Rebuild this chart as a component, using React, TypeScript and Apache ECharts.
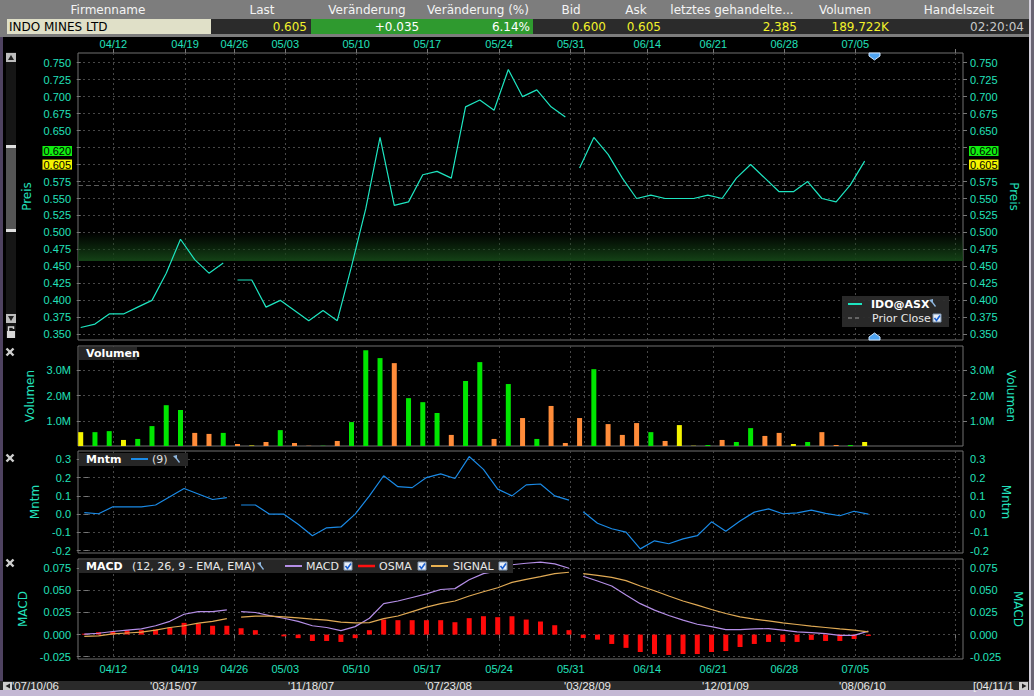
import React, { useEffect, useRef } from 'react';
import * as echarts from 'echarts';

// ---------------- data ----------------
const dateLabels = ['04/12', '04/19', '04/26', '05/03', '05/10', '05/17', '05/24', '05/31', '06/14', '06/21', '06/28', '07/05'];
const dateTicks = [2.29, 7.32, 10.78, 14.35, 19.33, 24.32, 29.35, 34.38, 39.75, 44.38, 49.36, 54.34];
const extraGridTicks = [35.31, 61.38];
const segmentStarts = [11, 35];

const price = [
  0.360, 0.365, 0.380, 0.380, 0.390, 0.400, 0.440, 0.490, 0.460, 0.440, 0.455,
  0.430, 0.430, 0.390, 0.400, 0.385, 0.370, 0.385, 0.370, 0.450, 0.535, 0.640, 0.540, 0.545, 0.585, 0.590, 0.580, 0.685, 0.695, 0.680, 0.740, 0.700, 0.710, 0.685, 0.670,
  0.595, 0.640, 0.615, 0.580, 0.550, 0.555, 0.550, 0.550, 0.550, 0.555, 0.550, 0.580, 0.600, 0.580, 0.560, 0.560, 0.575, 0.550, 0.545, 0.570, 0.605,
];
const priorClose = 0.570;
const dayHigh = 0.620;
const lastPrice = 0.605;
const bandTop = 0.500;
const bandBottom = 0.458;

// volume in millions
const volume = [
  0.55, 0.55, 0.59, 0.24, 0.28, 0.79, 1.62, 1.43, 0.52, 0.48, 0.52,
  0.08, 0.02, 0.16, 0.63, 0.12, 0.01, 0.01, 0.20, 0.95, 3.80, 3.49, 3.29, 1.90, 1.74, 1.31, 0.44, 2.58, 3.33, 0.28, 2.46, 1.11, 0.28, 1.59, 0.12,
  1.11, 3.05, 0.87, 0.44, 0.91, 0.55, 0.20, 0.83, 0.01, 0.04, 0.24, 0.16, 0.71, 0.40, 0.52, 0.08, 0.16, 0.55, 0.04, 0.04, 0.16,
];
// u = up day, d = down day, n = unchanged
const volDir = [
  'n', 'u', 'u', 'n', 'u', 'u', 'u', 'u', 'd', 'd', 'u',
  'd', 'n', 'd', 'u', 'd', 'd', 'u', 'd', 'u', 'u', 'u', 'd', 'u', 'u', 'u', 'd', 'u', 'u', 'd', 'u', 'd', 'u', 'd', 'd',
  'd', 'u', 'd', 'd', 'd', 'u', 'd', 'n', 'n', 'u', 'd', 'u', 'u', 'd', 'd', 'n', 'u', 'd', 'd', 'u', 'n',
];

const momentum = [
  0.008, 0.002, 0.040, 0.040, 0.040, 0.050, 0.095, 0.140, 0.110, 0.080, 0.090,
  0.050, 0.050, 0.000, 0.000, -0.055, -0.118, -0.075, -0.070, 0.000, 0.100, 0.210, 0.150, 0.145, 0.200, 0.220, 0.195, 0.315, 0.245, 0.137, 0.100, 0.160, 0.165, 0.100, 0.077,
  0.013, -0.050, -0.080, -0.098, -0.190, -0.146, -0.162, -0.135, -0.118, -0.042, -0.093, -0.038, 0.011, 0.029, 0.002, 0.007, 0.022, 0.004, -0.009, 0.016, 0.000,
];

const macd = [
  0.0005, 0.0015, 0.0035, 0.005, 0.0065, 0.010, 0.015, 0.023, 0.026, 0.026, 0.028,
  0.026, 0.025, 0.0215, 0.0185, 0.015, 0.010, 0.008, 0.0045, 0.009, 0.0185, 0.035, 0.038, 0.042, 0.046, 0.051, 0.052, 0.062, 0.069, 0.072, 0.079, 0.0807, 0.082, 0.080, 0.075,
  0.066, 0.0606, 0.055, 0.0447, 0.035, 0.0277, 0.0216, 0.0163, 0.0117, 0.009, 0.0057, 0.0057, 0.0064, 0.0068, 0.005, 0.003, 0.0023, 0.0011, -0.0008, -0.0008, 0.004,
];
const signal = [
  -0.002, -0.0015, 0.0008, 0.0018, 0.0027, 0.005, 0.008, 0.010, 0.013, 0.015, 0.018,
  0.0197, 0.021, 0.021, 0.020, 0.019, 0.0174, 0.0163, 0.014, 0.0133, 0.0136, 0.018, 0.021, 0.026, 0.031, 0.035, 0.038, 0.0436, 0.0485, 0.053, 0.059, 0.0625, 0.0655, 0.069, 0.0705,
  0.069, 0.067, 0.0648, 0.061, 0.055, 0.0496, 0.0436, 0.038, 0.0333, 0.0284, 0.0239, 0.020, 0.0174, 0.0155, 0.0133, 0.0114, 0.0095, 0.008, 0.0064, 0.005, 0.003,
];
const osma = [
  0.001, 0.0027, 0.0034, 0.005, 0.005, 0.0057, 0.008, 0.0133, 0.0125, 0.010, 0.010,
  0.0072, 0.005, 0, -0.002, -0.004, -0.0072, -0.0072, -0.0083, -0.004, 0.005, 0.017, 0.0163, 0.0163, 0.0163, 0.0163, 0.014, 0.0186, 0.0208, 0.0197, 0.0208, 0.017, 0.0148, 0.0106, 0.005,
  -0.0038, -0.0057, -0.0106, -0.015, -0.0197, -0.022, -0.023, -0.022, -0.022, -0.0197, -0.0186, -0.014, -0.0106, -0.0083, -0.0083, -0.0083, -0.006, -0.0072, -0.0072, -0.005, -0.0015,
];

const priceTicks = [0.35, 0.375, 0.4, 0.425, 0.45, 0.475, 0.5, 0.525, 0.55, 0.575, 0.6, 0.625, 0.65, 0.675, 0.7, 0.725, 0.75];
const priceLabelTicks = [0.35, 0.375, 0.4, 0.425, 0.45, 0.475, 0.5, 0.525, 0.55, 0.575, 0.65, 0.675, 0.7, 0.725, 0.75];
const volTicks = [1, 2, 3];
const mntmTicks = [-0.2, -0.1, 0, 0.1, 0.2, 0.3];
const macdTicks = [-0.025, 0, 0.025, 0.05, 0.075];

const headerLabels = ['Firmenname', 'Last', 'Veränderung', 'Veränderung (%)', 'Bid', 'Ask', 'letztes gehandelte...', 'Volumen', 'Handelszeit'];
const companyName = 'INDO MINES LTD';
const quoteLast = '0.605';
const quoteChange = '+0.035';
const quoteChangePct = '6.14%';
const quoteBid = '0.600';
const quoteAsk = '0.605';
const quoteLastSize = '2,385';
const quoteVolume = '189.722K';
const quoteTime = '02:20:04';
const scrollDates = ["'07/10/06", "'03/15/07", "'11/18/07", "'07/23/08", "'03/28/09", "'12/01/09", "'08/06/10", '[04/11/1'];

// ---------------- styling / layout ----------------
const TEAL = '#22e0bb';
const GRIDLINE = { color: '#474747', type: [2, 3] as any, width: 1 };
const LABEL_FONT = 'Liberation Sans';
const UI_FONT = '"DejaVu Sans"';

const X_MIN = -0.19;
const X_MAX = 61.9;
const XS_MIN = -0.442;
const XS_MAX = 61.64;

function withBreaks(values: number[]) {
  const out: any[] = [];
  values.forEach((v, i) => {
    if (segmentStarts.includes(i)) out.push([i - 0.5, '-']);
    out.push([i, v]);
  });
  return out;
}

function dateFmt(v: number) {
  let best = 0;
  let bd = Infinity;
  dateTicks.forEach((t, i) => {
    const d = Math.abs(t - v);
    if (d < bd) { bd = d; best = i; }
  });
  return dateLabels[best];
}

function yPair(gridIndex: number, min: number, max: number, ticks: number[], labelTicks: number[], fmt: (v: number) => string, name: string, gapL: number, gapR: number) {
  const common: any = {
    type: 'value', gridIndex, min, max,
    axisLine: { show: false },
    axisTick: { show: true, length: 4, lineStyle: { color: '#777' }, customValues: ticks },
    axisLabel: { customValues: labelTicks, formatter: fmt, color: TEAL, fontFamily: LABEL_FONT, fontSize: 11, margin: 7 },
    name, nameLocation: 'middle',
    nameTextStyle: { color: TEAL, fontFamily: 'DejaVu Sans', fontSize: 12 },
  };
  return [
    { ...common, position: 'left', nameRotate: 90, nameGap: gapL, splitLine: { show: true, lineStyle: GRIDLINE } },
    { ...common, position: 'right', nameRotate: -90, nameGap: gapR, splitLine: { show: false } },
  ];
}

function xAxisDef(gridIndex: number, opts: any = {}) {
  return {
    type: 'value', gridIndex, min: X_MIN, max: X_MAX,
    position: opts.position || 'bottom',
    axisLine: { show: false },
    splitLine: { show: true, lineStyle: GRIDLINE },
    axisTick: { show: !!opts.labels, length: 4, lineStyle: { color: '#777' }, customValues: [...dateTicks, ...extraGridTicks] },
    axisLabel: { show: !!opts.labels, customValues: dateTicks, formatter: dateFmt, color: TEAL, fontFamily: LABEL_FONT, fontSize: 11, margin: 4 },
  };
}

function hiddenX(gridIndex: number) {
  return { type: 'value', gridIndex, min: XS_MIN, max: XS_MAX, show: false, splitLine: { show: false } };
}

// graphic helpers
const T = (text: string, x: number, y: number, o: any = {}) => ({
  type: 'text', silent: true, z: 100,
  style: { text, x, y, fill: o.fill || '#ffffff', font: o.font || `12px ${UI_FONT}`, textAlign: o.align || 'left', textVerticalAlign: 'middle' },
});
const R = (x: number, y: number, w: number, h: number, fill: string, o: any = {}) => ({
  type: 'rect', silent: true, z: o.z ?? 90,
  shape: { x, y, width: w, height: h },
  style: { fill, stroke: o.stroke || null, lineWidth: o.lw || 0 },
});
const L = (x1: number, y1: number, x2: number, y2: number, stroke: string, lw = 1, dash?: number[]) => ({
  type: 'line', silent: true, z: 100,
  shape: { x1, y1, x2, y2 },
  style: { stroke, lineWidth: lw, lineDash: dash },
});
const P = (points: number[][], fill: string, stroke?: string) => ({
  type: 'polygon', silent: true, z: 100, shape: { points }, style: { fill, stroke: stroke || null, lineWidth: 1 },
});
const checkbox = (x: number, y: number) => [
  R(x, y, 8, 8, '#e8eef8', { stroke: '#7f95b0', lw: 1, z: 100 }),
  { type: 'polyline', silent: true, z: 101, shape: { points: [[x + 1.5, y + 4], [x + 3.5, y + 6.5], [x + 7, y + 1.5]] }, style: { stroke: '#1a5fd0', lineWidth: 1.6, fill: null } },
];
const wrench = (x: number, y: number) => [
  P([[x - 3, y - 4], [x, y - 1], [x + 3, y + 3], [x + 4, y + 2], [x + 1, y - 2], [x + 1, y - 5]], '#8fb8e0'),
];
const closeX = (x: number, y: number) => [
  L(x - 3.5, y - 3.5, x + 3.5, y + 3.5, '#cfcfcf', 2.4),
  L(x - 3.5, y + 3.5, x + 3.5, y - 3.5, '#cfcfcf', 2.4),
];

function buildGraphic() {
  const g: any[] = [];
  // header
  g.push(R(0, 0, 1034, 37, '#7d7d7d', { z: 80 }));
  const headerCenters = [108, 262, 367, 478, 571, 636, 732, 845, 959];
  headerLabels.forEach((h, i) => g.push(T(h, headerCenters[i], 9.5, { align: 'center', fill: '#f4f4f4', font: `12px ${UI_FONT}` })));
  g.push(R(7, 19, 204, 15, '#e0e0c8'));
  g.push(R(211, 19, 100, 15, '#2b2b2b'));
  g.push(R(311, 19, 222, 15, '#2f9a2f'));
  g.push(R(533, 19, 496, 15, '#2b2b2b'));
  g.push(T(companyName, 9, 26.5, { fill: '#000', font: `12px ${UI_FONT}` }));
  g.push(T(quoteLast, 307, 26.5, { align: 'right', fill: '#f2f22a' }));
  g.push(T(quoteChange, 397, 26.5, { align: 'center', fill: '#ffffff' }));
  g.push(T(quoteChangePct, 530, 26.5, { align: 'right', fill: '#ffffff' }));
  g.push(T(quoteBid, 606, 26.5, { align: 'right', fill: '#f2f22a' }));
  g.push(T(quoteAsk, 661, 26.5, { align: 'right', fill: '#f2f22a' }));
  g.push(T(quoteLastSize, 797, 26.5, { align: 'right', fill: '#f2f22a' }));
  g.push(T(quoteVolume, 889, 26.5, { align: 'right', fill: '#f2f22a' }));
  g.push(T(quoteTime, 1024, 26.5, { align: 'right', fill: '#c8c8c8' }));

  // window edges
  g.push(R(0, 37, 3, 653, '#4e4260'));
  g.push(R(1029, 0, 2, 696, '#d4d0dc'));
  g.push(R(1031, 0, 3, 696, '#6a6472'));

  // left scrollbar
  g.push(R(6, 52, 10, 286, '#161616'));
  g.push(R(6, 53, 10, 9, '#bdbdbd'));
  g.push(P([[8, 60], [14, 60], [11, 55]], '#222'));
  g.push(R(6, 145, 10, 87, '#555555'));
  g.push(R(6, 145, 10, 3, '#e0e0e0'));
  g.push(R(6, 229, 10, 3, '#e0e0e0'));
  g.push(R(6, 314, 10, 9, '#bdbdbd'));
  g.push(P([[8, 316], [14, 316], [11, 321]], '#222'));
  g.push(R(7, 331, 8, 7, '#d8d8d8'));
  g.push({ type: 'polyline', silent: true, z: 100, shape: { points: [[8.5, 331], [8.5, 327], [13.5, 327], [13.5, 329]] }, style: { stroke: '#d8d8d8', lineWidth: 1.5, fill: null } });

  // close icons
  g.push(...closeX(10, 352), ...closeX(10, 458), ...closeX(10, 563));

  // price pane markers
  g.push(P([[869, 53], [880, 53], [880, 56], [874.5, 60], [869, 56]], '#4ea3f0', '#cfe6ff'));
  g.push(P([[869, 340], [880, 340], [880, 337], [874.5, 333], [869, 337]], '#4ea3f0', '#cfe6ff'));

  // price legend
  g.push(R(842, 296, 107, 31, 'rgba(44,44,44,0.92)', { z: 95 }));
  g.push(L(848, 304, 862, 304, '#1de5c0', 2));
  g.push(T('IDO@ASX', 871, 304, { font: `bold 11px ${UI_FONT}` }));
  g.push(...wrench(932, 304));
  g.push(L(848, 318, 862, 318, '#777', 1.5, [4, 3]));
  g.push(T('Prior Close', 872, 318, { font: `11px ${UI_FONT}`, fill: '#e8e8e8' }));
  g.push(...checkbox(933, 314));

  // volume legend
  g.push(R(79, 347, 58, 13, '#262626', { z: 95 }));
  g.push(T('Volumen', 86, 353.5, { font: `bold 11px ${UI_FONT}` }));

  // momentum legend
  g.push(R(79, 453, 109, 13, '#262626', { z: 95 }));
  g.push(T('Mntm', 86, 459.5, { font: `bold 11px ${UI_FONT}` }));
  g.push(L(131, 459, 148, 459, '#1a8ae6', 2));
  g.push(T('(9)', 152, 459.5, { font: `11px ${UI_FONT}`, fill: '#e0e0e0' }));
  g.push(...wrench(176, 460));

  // macd legend
  g.push(R(79, 560, 434, 13, '#262626', { z: 95 }));
  g.push(T('MACD', 86, 566.5, { font: `bold 11px ${UI_FONT}` }));
  g.push(T('(12, 26, 9 - EMA, EMA)', 132, 566.5, { font: `11px ${UI_FONT}`, fill: '#e8e8e8' }));
  g.push(...wrench(260, 567));
  g.push(L(285, 566, 302, 566, '#b48ee6', 2));
  g.push(T('MACD', 306, 566.5, { font: `11px ${UI_FONT}`, fill: '#e8e8e8' }));
  g.push(...checkbox(344, 562));
  g.push(L(358, 566, 375, 566, '#ff1010', 2.5));
  g.push(T('OSMA', 379, 566.5, { font: `11px ${UI_FONT}`, fill: '#e8e8e8' }));
  g.push(...checkbox(418, 562));
  g.push(L(431, 566, 448, 566, '#e8b050', 2));
  g.push(T('SIGNAL', 453, 566.5, { font: `11px ${UI_FONT}`, fill: '#e8e8e8' }));
  g.push(...checkbox(499, 562));

  // bottom scrollbar
  g.push(R(0, 681, 1029, 9, '#2a2a2a'));
  g.push(R(0, 690, 1034, 6, '#c4b8d4'));
  g.push(R(3, 682, 9, 8, '#cfcfcf'));
  g.push(P([[10, 683.5], [10, 688.5], [5.5, 686]], '#222'));
  g.push(R(1019, 682, 9, 8, '#cfcfcf'));
  g.push(P([[1022, 683.5], [1022, 688.5], [1026.5, 686]], '#222'));
  const scrollX = [12, 150, 288, 425, 564, 702, 839, 973];
  scrollDates.forEach((d, i) => g.push(T(d, scrollX[i], 685.5, { font: `11.5px ${LABEL_FONT}`, fill: '#e8e8e8' })));
  return g;
}

function buildOption(): any {
  const priceY = yPair(0, 0.3416, 0.7643, priceTicks, priceLabelTicks, (v) => v.toFixed(3), 'Preis', 36, 36);
  const volY = yPair(1, 0, 3.97, volTicks, volTicks, (v) => v.toFixed(1) + 'M', 'Volumen', 33, 33);
  const mntmY = yPair(2, -0.2126, 0.3454, mntmTicks, mntmTicks, (v) => v.toFixed(1), 'Mntm', 28, 28);
  const macdY = yPair(3, -0.0276, 0.0855, macdTicks, macdTicks, (v) => v.toFixed(3), 'MACD', 39, 39);

  const tag = (v: number, pos: string, bg: string) => ({
    yAxis: v,
    lineStyle: { color: 'rgba(0,0,0,0)', width: 0 },
    label: {
      show: true, position: pos, formatter: v.toFixed(3), backgroundColor: bg, color: '#000',
      fontFamily: LABEL_FONT, fontSize: 11, padding: [0, 1], lineHeight: 10, distance: 6,
    },
  });

  return {
    animation: false,
    backgroundColor: '#000000',
    grid: [
      { left: 78, width: 885, top: 53, height: 287, show: true, borderColor: '#707070', borderWidth: 1 },
      { left: 78, width: 885, top: 346, height: 100, show: true, borderColor: '#707070', borderWidth: 1 },
      { left: 78, width: 885, top: 451, height: 102, show: true, borderColor: '#707070', borderWidth: 1 },
      { left: 78, width: 885, top: 559, height: 100, show: true, borderColor: '#707070', borderWidth: 1 },
    ],
    xAxis: [
      xAxisDef(0, { position: 'top', labels: true }),
      xAxisDef(1),
      xAxisDef(2),
      hiddenX(2),
      xAxisDef(3, { position: 'bottom', labels: true }),
      hiddenX(3),
    ],
    yAxis: [...priceY, ...volY, ...mntmY, ...macdY],
    series: [
      {
        name: 'IDO@ASX', type: 'line', xAxisIndex: 0, yAxisIndex: 0,
        data: withBreaks(price), symbol: 'none', connectNulls: false,
        lineStyle: { color: '#1de5c0', width: 1.2 }, z: 5,
        markArea: {
          silent: true,
          itemStyle: {
            color: new echarts.graphic.LinearGradient(0, 0, 0, 1, [
              { offset: 0, color: 'rgba(18,60,20,0)' },
              { offset: 1, color: 'rgba(20,66,22,1)' },
            ]),
          },
          data: [[{ yAxis: bandTop }, { yAxis: bandBottom }]],
        },
        markLine: {
          silent: true, symbol: ['none', 'none'],
          data: [
            { yAxis: priorClose, lineStyle: { color: '#5a5a5a', type: [5, 3], width: 1 }, label: { show: false } },
            tag(dayHigh, 'start', '#11ee11'),
            tag(dayHigh, 'end', '#11ee11'),
            tag(lastPrice, 'start', '#f4f400'),
            tag(lastPrice, 'end', '#f4f400'),
          ],
        },
      },
      {
        name: 'Volumen', type: 'bar', xAxisIndex: 1, yAxisIndex: 2, barWidth: 5,
        data: volume.map((v, i) => ({
          value: [i, v],
          itemStyle: { color: volDir[i] === 'u' ? '#00e600' : volDir[i] === 'd' ? '#ff8c3a' : '#f4f400' },
        })),
      },
      {
        name: 'Mntm', type: 'line', xAxisIndex: 3, yAxisIndex: 4,
        data: withBreaks(momentum), symbol: 'none', connectNulls: false,
        lineStyle: { color: '#1a8ae6', width: 1.2 },
      },
      {
        name: 'OSMA', type: 'bar', xAxisIndex: 5, yAxisIndex: 6, barWidth: 5,
        data: osma.map((v, i) => [i, v]), itemStyle: { color: '#ff0a0a' },
      },
      {
        name: 'MACD', type: 'line', xAxisIndex: 5, yAxisIndex: 6,
        data: withBreaks(macd), symbol: 'none', connectNulls: false,
        lineStyle: { color: '#b48ee6', width: 1.2 },
      },
      {
        name: 'SIGNAL', type: 'line', xAxisIndex: 5, yAxisIndex: 6,
        data: withBreaks(signal), symbol: 'none', connectNulls: false,
        lineStyle: { color: '#e0aa55', width: 1.2 },
      },
    ],
    graphic: buildGraphic(),
  };
}

export default function App() {
  const ref = useRef<HTMLDivElement>(null);
  useEffect(() => {
    const chart = echarts.init(ref.current!, null, { renderer: 'svg' });
    chart.setOption(buildOption());
    return () => chart.dispose();
  }, []);
  return <div ref={ref} style={{ position: 'fixed', left: 0, top: 0, width: 1034, height: 696, background: '#000' }} />;
}
